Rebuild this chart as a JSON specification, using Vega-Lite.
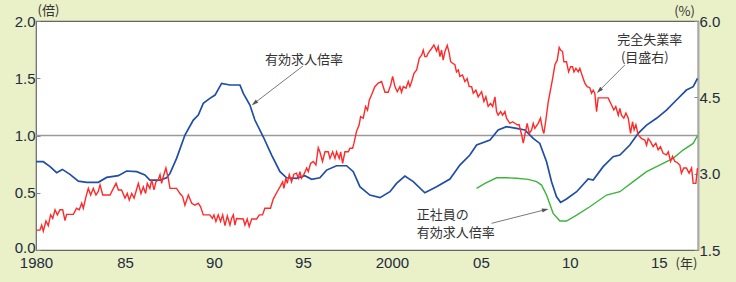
{
  "$schema": "https://vega.github.io/schema/vega-lite/v6.json",
  "width": 662,
  "height": 229,
  "autosize": {"type": "none"},
  "padding": {"left": 36, "top": 21, "right": 38, "bottom": 32},
  "background": "#eaf0c8",
  "config": {
    "view": {"fill": "#ffffff", "stroke": "#666666", "strokeWidth": 1.2},
    "axis": {"labelFont": "Liberation Sans", "labelFontSize": 15, "labelColor": "#222b3d", "titleFont": "Noto Sans CJK JP", "titleFontSize": 13, "titleFontWeight": "normal", "titleColor": "#333333", "grid": false, "domain": false, "tickColor": "#888888"},
    "text": {"font": "Noto Sans CJK JP"}
  },
  "datasets": {
    "blue": [
      {"t":1980.0,"v":0.771},{"t":1980.41,"v":0.771},{"t":1980.79,"v":0.728},{"t":1981.16,"v":0.675},{"t":1981.48,"v":0.704},{"t":1981.91,"v":0.661},{"t":1982.38,"v":0.602},{"t":1982.85,"v":0.591},{"t":1983.5,"v":0.591},{"t":1983.97,"v":0.634},{"t":1984.63,"v":0.649},{"t":1985.09,"v":0.69},{"t":1985.66,"v":0.684},{"t":1986.12,"v":0.655},{"t":1986.4,"v":0.611},{"t":1986.97,"v":0.611},{"t":1987.34,"v":0.631},{"t":1987.53,"v":0.669},{"t":1987.9,"v":0.8},{"t":1988.37,"v":1.004},{"t":1988.84,"v":1.135},{"t":1989.12,"v":1.179},{"t":1989.4,"v":1.281},{"t":1989.77,"v":1.324},{"t":1990.06,"v":1.353},{"t":1990.43,"v":1.455},{"t":1990.9,"v":1.441},{"t":1991.46,"v":1.441},{"t":1991.65,"v":1.368},{"t":1992.02,"v":1.266},{"t":1992.3,"v":1.135},{"t":1992.77,"v":0.989},{"t":1993.24,"v":0.829},{"t":1993.71,"v":0.684},{"t":1994.08,"v":0.631},{"t":1994.64,"v":0.626},{"t":1995.11,"v":0.649},{"t":1995.49,"v":0.617},{"t":1995.95,"v":0.631},{"t":1996.33,"v":0.698},{"t":1996.89,"v":0.736},{"t":1997.45,"v":0.736},{"t":1997.83,"v":0.684},{"t":1998.2,"v":0.553},{"t":1998.76,"v":0.48},{"t":1999.33,"v":0.457},{"t":1999.89,"v":0.509},{"t":2000.26,"v":0.582},{"t":2000.73,"v":0.646},{"t":2001.2,"v":0.597},{"t":2001.85,"v":0.5},{"t":2002.51,"v":0.553},{"t":2003.26,"v":0.62},{"t":2003.82,"v":0.742},{"t":2004.38,"v":0.829},{"t":2004.76,"v":0.917},{"t":2005.51,"v":0.96},{"t":2005.97,"v":1.048},{"t":2006.44,"v":1.077},{"t":2007.0,"v":1.062},{"t":2007.47,"v":1.048},{"t":2007.94,"v":0.975},{"t":2008.31,"v":0.931},{"t":2008.69,"v":0.771},{"t":2008.97,"v":0.597},{"t":2009.25,"v":0.465},{"t":2009.48,"v":0.416},{"t":2009.81,"v":0.445},{"t":2010.38,"v":0.509},{"t":2011.03,"v":0.62},{"t":2011.31,"v":0.611},{"t":2011.87,"v":0.728},{"t":2012.43,"v":0.815},{"t":2012.81,"v":0.829},{"t":2013.37,"v":0.917},{"t":2013.84,"v":1.019},{"t":2014.31,"v":1.091},{"t":2014.87,"v":1.15},{"t":2015.43,"v":1.222},{"t":2015.99,"v":1.31},{"t":2016.55,"v":1.397},{"t":2016.93,"v":1.426},{"t":2017.17,"v":1.499}
    ],
    "green": [
      {"t":2004.76,"v":0.538},{"t":2005.23,"v":0.582},{"t":2005.88,"v":0.631},{"t":2006.44,"v":0.631},{"t":2007.0,"v":0.626},{"t":2007.66,"v":0.617},{"t":2008.13,"v":0.597},{"t":2008.41,"v":0.567},{"t":2008.69,"v":0.48},{"t":2009.06,"v":0.32},{"t":2009.44,"v":0.253},{"t":2009.81,"v":0.253},{"t":2010.38,"v":0.305},{"t":2011.12,"v":0.378},{"t":2012.06,"v":0.48},{"t":2012.81,"v":0.509},{"t":2013.56,"v":0.597},{"t":2014.31,"v":0.684},{"t":2015.24,"v":0.757},{"t":2015.8,"v":0.8},{"t":2016.36,"v":0.873},{"t":2016.93,"v":0.931},{"t":2017.17,"v":0.998}
    ],
    "red": [
      {"t":1980.0,"u":1.89},{"t":1980.22,"u":1.89},{"t":1980.32,"u":1.99},{"t":1980.41,"u":1.87},{"t":1980.56,"u":2.07},{"t":1980.69,"u":1.98},{"t":1980.82,"u":2.19},{"t":1980.94,"u":2.12},{"t":1981.07,"u":2.29},{"t":1981.2,"u":2.19},{"t":1981.35,"u":2.29},{"t":1981.5,"u":2.29},{"t":1981.63,"u":2.08},{"t":1981.72,"u":2.2},{"t":1982.1,"u":2.2},{"t":1982.28,"u":2.32},{"t":1982.43,"u":2.29},{"t":1982.57,"u":2.42},{"t":1982.66,"u":2.32},{"t":1982.81,"u":2.55},{"t":1982.94,"u":2.71},{"t":1983.07,"u":2.58},{"t":1983.22,"u":2.71},{"t":1983.37,"u":2.58},{"t":1983.5,"u":2.65},{"t":1983.6,"u":2.78},{"t":1983.75,"u":2.58},{"t":1984.16,"u":2.58},{"t":1984.35,"u":2.71},{"t":1984.5,"u":2.81},{"t":1984.63,"u":2.68},{"t":1984.81,"u":2.68},{"t":1985.0,"u":2.52},{"t":1985.13,"u":2.61},{"t":1985.24,"u":2.48},{"t":1985.38,"u":2.61},{"t":1985.51,"u":2.52},{"t":1985.62,"u":2.65},{"t":1985.75,"u":2.81},{"t":1985.9,"u":2.61},{"t":1986.03,"u":2.74},{"t":1986.16,"u":2.61},{"t":1986.25,"u":2.81},{"t":1986.4,"u":2.71},{"t":1986.5,"u":2.88},{"t":1986.63,"u":2.68},{"t":1986.74,"u":2.84},{"t":1986.87,"u":2.88},{"t":1986.97,"u":2.98},{"t":1987.06,"u":2.81},{"t":1987.15,"u":2.94},{"t":1987.3,"u":3.11},{"t":1987.43,"u":2.91},{"t":1987.53,"u":2.71},{"t":1987.9,"u":2.71},{"t":1988.09,"u":2.61},{"t":1988.24,"u":2.55},{"t":1988.37,"u":2.38},{"t":1988.56,"u":2.58},{"t":1988.75,"u":2.42},{"t":1988.93,"u":2.38},{"t":1989.12,"u":2.42},{"t":1989.25,"u":2.35},{"t":1989.4,"u":2.19},{"t":1989.77,"u":2.19},{"t":1989.91,"u":2.12},{"t":1990.0,"u":2.19},{"t":1990.11,"u":2.06},{"t":1990.24,"u":2.19},{"t":1990.37,"u":2.06},{"t":1990.49,"u":2.19},{"t":1990.62,"u":1.98},{"t":1990.75,"u":2.17},{"t":1990.9,"u":1.99},{"t":1990.99,"u":2.12},{"t":1991.09,"u":2.19},{"t":1991.18,"u":1.99},{"t":1991.27,"u":2.12},{"t":1991.65,"u":2.11},{"t":1991.74,"u":1.99},{"t":1991.87,"u":2.11},{"t":1991.98,"u":1.96},{"t":1992.12,"u":2.11},{"t":1992.4,"u":2.11},{"t":1992.55,"u":2.19},{"t":1992.73,"u":2.19},{"t":1992.86,"u":2.32},{"t":1993.18,"u":2.32},{"t":1993.33,"u":2.5},{"t":1993.56,"u":2.65},{"t":1993.71,"u":2.74},{"t":1993.86,"u":2.84},{"t":1993.93,"u":2.71},{"t":1994.04,"u":2.91},{"t":1994.12,"u":2.81},{"t":1994.23,"u":2.98},{"t":1994.36,"u":2.84},{"t":1994.49,"u":2.99},{"t":1994.64,"u":3.01},{"t":1994.74,"u":2.91},{"t":1994.83,"u":3.04},{"t":1994.92,"u":2.91},{"t":1995.06,"u":2.99},{"t":1995.21,"u":3.11},{"t":1995.3,"u":3.04},{"t":1995.43,"u":3.2},{"t":1995.58,"u":3.24},{"t":1995.73,"u":3.17},{"t":1995.86,"u":3.51},{"t":1995.95,"u":3.43},{"t":1996.1,"u":3.24},{"t":1996.24,"u":3.43},{"t":1996.42,"u":3.43},{"t":1996.52,"u":3.3},{"t":1996.67,"u":3.43},{"t":1996.8,"u":3.3},{"t":1996.89,"u":3.43},{"t":1997.04,"u":3.3},{"t":1997.12,"u":3.43},{"t":1997.23,"u":3.2},{"t":1997.36,"u":3.43},{"t":1997.55,"u":3.43},{"t":1997.64,"u":3.5},{"t":1997.79,"u":3.5},{"t":1997.87,"u":3.6},{"t":1998.01,"u":3.83},{"t":1998.16,"u":3.96},{"t":1998.24,"u":4.12},{"t":1998.39,"u":4.09},{"t":1998.52,"u":4.32},{"t":1998.63,"u":4.25},{"t":1998.73,"u":4.45},{"t":1998.86,"u":4.55},{"t":1999.04,"u":4.71},{"t":1999.23,"u":4.78},{"t":1999.42,"u":4.81},{"t":1999.61,"u":4.6},{"t":1999.79,"u":4.6},{"t":1999.93,"u":4.74},{"t":2000.04,"u":4.91},{"t":2000.17,"u":4.71},{"t":2000.3,"u":4.61},{"t":2000.45,"u":4.71},{"t":2000.54,"u":4.6},{"t":2000.64,"u":4.71},{"t":2000.79,"u":4.68},{"t":2000.92,"u":4.81},{"t":2001.01,"u":4.71},{"t":2001.11,"u":4.81},{"t":2001.24,"u":4.97},{"t":2001.39,"u":5.04},{"t":2001.54,"u":5.27},{"t":2001.67,"u":5.33},{"t":2001.76,"u":5.43},{"t":2001.85,"u":5.3},{"t":2001.95,"u":5.3},{"t":2002.04,"u":5.37},{"t":2002.23,"u":5.46},{"t":2002.36,"u":5.53},{"t":2002.51,"u":5.41},{"t":2002.6,"u":5.5},{"t":2002.7,"u":5.3},{"t":2002.79,"u":5.43},{"t":2002.88,"u":5.23},{"t":2002.98,"u":5.4},{"t":2003.11,"u":5.52},{"t":2003.22,"u":5.37},{"t":2003.3,"u":5.2},{"t":2003.41,"u":5.17},{"t":2003.54,"u":5.14},{"t":2003.63,"u":5.0},{"t":2003.73,"u":5.04},{"t":2003.82,"u":4.91},{"t":2003.97,"u":4.94},{"t":2004.1,"u":4.81},{"t":2004.23,"u":4.87},{"t":2004.34,"u":4.71},{"t":2004.48,"u":4.71},{"t":2004.57,"u":4.58},{"t":2004.72,"u":4.64},{"t":2004.85,"u":4.51},{"t":2005.04,"u":4.61},{"t":2005.17,"u":4.42},{"t":2005.28,"u":4.51},{"t":2005.41,"u":4.32},{"t":2005.54,"u":4.38},{"t":2005.66,"u":4.32},{"t":2005.79,"u":4.51},{"t":2005.88,"u":4.22},{"t":2005.97,"u":4.15},{"t":2006.11,"u":4.22},{"t":2006.22,"u":4.15},{"t":2006.35,"u":4.22},{"t":2006.44,"u":4.09},{"t":2006.63,"u":3.99},{"t":2006.78,"u":4.02},{"t":2006.91,"u":3.99},{"t":2007.04,"u":3.96},{"t":2007.15,"u":3.96},{"t":2007.29,"u":3.76},{"t":2007.38,"u":3.6},{"t":2007.47,"u":3.76},{"t":2007.6,"u":3.99},{"t":2007.72,"u":3.79},{"t":2007.85,"u":3.86},{"t":2007.94,"u":3.99},{"t":2008.03,"u":3.89},{"t":2008.22,"u":3.99},{"t":2008.35,"u":4.09},{"t":2008.47,"u":3.86},{"t":2008.54,"u":3.79},{"t":2008.65,"u":4.05},{"t":2008.78,"u":4.4},{"t":2009.03,"u":4.87},{"t":2009.16,"u":5.14},{"t":2009.29,"u":5.23},{"t":2009.4,"u":5.48},{"t":2009.48,"u":5.43},{"t":2009.59,"u":5.4},{"t":2009.66,"u":5.2},{"t":2009.81,"u":5.2},{"t":2009.93,"u":5.0},{"t":2010.04,"u":5.1},{"t":2010.15,"u":5.1},{"t":2010.23,"u":5.0},{"t":2010.34,"u":5.07},{"t":2010.47,"u":5.0},{"t":2010.56,"u":5.07},{"t":2010.71,"u":4.91},{"t":2010.84,"u":4.78},{"t":2010.97,"u":4.71},{"t":2011.12,"u":4.69},{"t":2011.22,"u":4.58},{"t":2011.31,"u":4.64},{"t":2011.4,"u":4.58},{"t":2011.5,"u":4.22},{"t":2011.59,"u":4.49},{"t":2011.72,"u":4.49},{"t":2011.97,"u":4.49},{"t":2012.15,"u":4.49},{"t":2012.34,"u":4.35},{"t":2012.47,"u":4.25},{"t":2012.58,"u":4.32},{"t":2012.72,"u":4.15},{"t":2012.81,"u":4.28},{"t":2012.9,"u":4.15},{"t":2013.03,"u":4.09},{"t":2013.15,"u":4.19},{"t":2013.28,"u":4.09},{"t":2013.41,"u":3.79},{"t":2013.52,"u":4.02},{"t":2013.61,"u":3.86},{"t":2013.71,"u":3.96},{"t":2013.84,"u":3.76},{"t":2014.03,"u":3.69},{"t":2014.21,"u":3.66},{"t":2014.31,"u":3.56},{"t":2014.4,"u":3.69},{"t":2014.53,"u":3.63},{"t":2014.68,"u":3.53},{"t":2014.83,"u":3.6},{"t":2014.96,"u":3.47},{"t":2015.09,"u":3.53},{"t":2015.24,"u":3.4},{"t":2015.43,"u":3.37},{"t":2015.53,"u":3.43},{"t":2015.66,"u":3.24},{"t":2015.77,"u":3.34},{"t":2015.9,"u":3.24},{"t":2016.03,"u":3.22},{"t":2016.18,"u":3.17},{"t":2016.27,"u":3.01},{"t":2016.4,"u":3.11},{"t":2016.55,"u":3.11},{"t":2016.7,"u":3.01},{"t":2016.84,"u":3.11},{"t":2016.93,"u":2.81},{"t":2017.08,"u":2.81},{"t":2017.17,"u":3.11}
    ],
    "notesCenter": [
      {"t":1995.06,"v":1.659,"label":"有効求人倍率"},
      {"t":2014.49,"v":1.83,"label":"完全失業率"},
      {"t":2014.21,"v":1.675,"label":"(目盛右)"}
    ],
    "notesLeft": [
      {"t":2001.4,"v":0.302,"label":"正社員の"},
      {"t":2001.4,"v":0.147,"label":"有効求人倍率"}
    ],
    "arrows": [
      {"t1":1995.0,"v1":1.607,"t2":1992.27,"v2":1.282,"a":233},
      {"t1":2013.09,"v1":1.616,"t2":2011.65,"v2":1.392,"a":225},
      {"t1":2005.6,"v1":0.233,"t2":2008.62,"v2":0.352,"a":76}
    ]
  },
  "layer": [
    {
      "layer": [
        {
          "data": {"values": [{"v": 1}]},
          "mark": {"type": "rule", "color": "#9a9a9a", "strokeWidth": 1.5},
          "encoding": {
            "y": {"field": "v", "type": "quantitative", "scale": {"domain": [0, 2], "nice": false, "zero": false},
              "axis": {"values": [0, 0.5, 1, 1.5, 2], "format": ".1f", "title": "(倍)", "titleAngle": 0, "titleX": 12, "titleY": -11, "titleAlign": "center", "titleBaseline": "middle", "tickSize": -4, "labelPadding": 5, "labelOffset": {"condition": {"test": "datum.value == 0", "value": -3}, "value": 0}}}
          }
        },
        {
          "data": {"name": "green"},
          "mark": {"type": "line", "color": "#3db43d", "strokeWidth": 1.4},
          "encoding": {
            "x": {"field": "t", "type": "quantitative", "scale": {"domain": [1980, 2017.2], "nice": false, "zero": false}},
            "y": {"field": "v", "type": "quantitative"}
          }
        },
        {
          "data": {"name": "blue"},
          "mark": {"type": "line", "color": "#1f4ea3", "strokeWidth": 1.7},
          "encoding": {
            "x": {"field": "t", "type": "quantitative", "scale": {"domain": [1980, 2017.2], "nice": false, "zero": false},
              "axis": {"values": [1980, 1985, 1990, 1995, 2000, 2005, 2010, 2015], "labelExpr": "datum.value == 1980 || datum.value == 2000 ? toString(datum.value) : substring(toString(datum.value), 2)", "title": "(年)", "titleX": 650, "titleY": 13, "titleAlign": "center", "titleBaseline": "middle", "tickSize": 0, "labelPadding": 5, "labelFlush": false}},
            "y": {"field": "v", "type": "quantitative"}
          }
        },
        {
          "data": {"name": "arrows"},
          "mark": {"type": "rule", "color": "#555555", "strokeWidth": 0.8},
          "encoding": {
            "x": {"field": "t1", "type": "quantitative"},
            "x2": {"field": "t2"},
            "y": {"field": "v1", "type": "quantitative"},
            "y2": {"field": "v2"}
          }
        },
        {
          "data": {"name": "arrows"},
          "mark": {"type": "point", "shape": "M0,-1L0.6,1L-0.6,1Z", "filled": true, "color": "#555555", "size": 45, "opacity": 1},
          "encoding": {
            "x": {"field": "t2", "type": "quantitative"},
            "y": {"field": "v2", "type": "quantitative"},
            "angle": {"field": "a", "type": "quantitative", "scale": null}
          }
        },
        {
          "data": {"name": "notesCenter"},
          "mark": {"type": "text", "font": "Noto Sans CJK JP", "fontSize": 13, "color": "#333333", "align": "center", "baseline": "middle"},
          "encoding": {
            "x": {"field": "t", "type": "quantitative"},
            "y": {"field": "v", "type": "quantitative"},
            "text": {"field": "label"}
          }
        },
        {
          "data": {"name": "notesLeft"},
          "mark": {"type": "text", "font": "Noto Sans CJK JP", "fontSize": 13, "color": "#333333", "align": "left", "baseline": "middle"},
          "encoding": {
            "x": {"field": "t", "type": "quantitative"},
            "y": {"field": "v", "type": "quantitative"},
            "text": {"field": "label"}
          }
        }
      ]
    },
    {
      "data": {"name": "red"},
      "mark": {"type": "line", "color": "#ff2a2a", "strokeWidth": 1.4},
      "encoding": {
        "x": {"field": "t", "type": "quantitative", "scale": {"domain": [1980, 2017.2], "nice": false, "zero": false}},
        "y": {"field": "u", "type": "quantitative", "scale": {"domain": [1.5, 6], "nice": false, "zero": false},
          "axis": {"orient": "right", "values": [1.5, 3, 4.5, 6], "format": ".1f", "title": "(%)", "titleAngle": 0, "titleX": -14, "titleY": -10, "titleAlign": "center", "titleBaseline": "middle", "tickSize": -4, "labelPadding": 5, "domain": true, "domainColor": "#aaaaaa", "domainWidth": 2}}
      }
    }
  ],
  "resolve": {"scale": {"y": "independent"}}
}
